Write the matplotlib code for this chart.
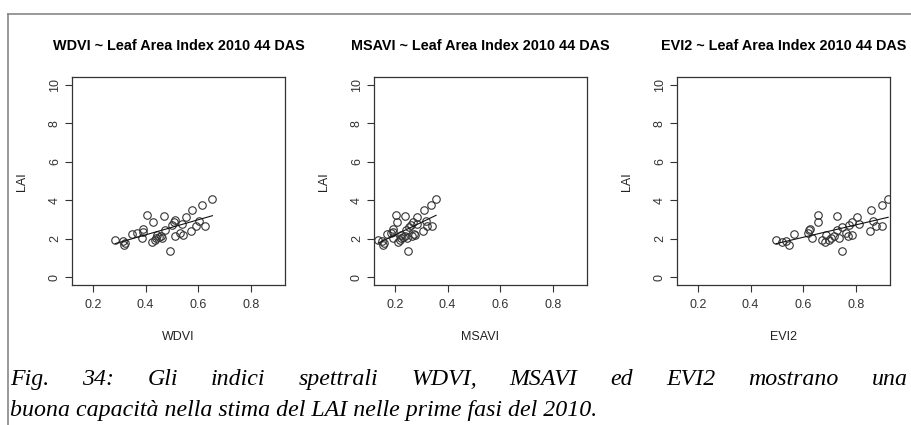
import numpy as np
import matplotlib
matplotlib.use("Agg")
from matplotlib import pyplot as plt
from matplotlib.lines import Line2D

wdvi = [0.285, 0.314, 0.318, 0.322, 0.347, 0.369, 0.386, 0.39, 0.39, 0.407,
        0.427, 0.426, 0.437, 0.441, 0.445, 0.452, 0.458, 0.469, 0.474, 0.464,
        0.494, 0.502, 0.507, 0.512, 0.513, 0.53, 0.539, 0.544, 0.555, 0.574,
        0.578, 0.591, 0.604, 0.614, 0.625, 0.654]
lai_wdvi = [1.94, 1.87, 1.68, 1.79, 2.25, 2.3, 2.05, 2.5, 2.34, 3.24,
            2.88, 1.84, 1.96, 2.05, 2.2, 2.08, 2.17, 3.2, 2.46, 2.05,
            1.39, 2.74, 2.86, 2.17, 2.95, 2.3, 2.77, 2.22, 3.15, 2.39,
            3.5, 2.67, 2.9, 3.74, 2.67, 4.07]

msavi = [0.136, 0.149, 0.156, 0.159, 0.168, 0.185, 0.192, 0.192, 0.194, 0.204,
         0.209, 0.213, 0.219, 0.223, 0.222, 0.23, 0.236, 0.238, 0.241, 0.244,
         0.251, 0.253, 0.261, 0.267, 0.264, 0.284, 0.271, 0.276, 0.283, 0.308,
         0.311, 0.321, 0.318, 0.338, 0.34, 0.356]
lai_msavi = [1.94, 1.87, 1.7, 1.79, 2.25, 2.29, 2.05, 2.5, 2.34, 3.24,
             2.88, 1.84, 1.96, 2.05, 2.2, 2.08, 2.17, 3.2, 2.46, 2.05,
             1.39, 2.6, 2.74, 2.86, 2.17, 3.15, 2.25, 2.22, 2.77, 2.39,
             3.5, 2.67, 2.9, 3.74, 2.67, 4.07]

evi2 = [0.497, 0.519, 0.535, 0.547, 0.566, 0.619, 0.623, 0.626, 0.633, 0.656,
        0.656, 0.671, 0.684, 0.687, 0.697, 0.705, 0.718, 0.729, 0.73, 0.737,
        0.749, 0.747, 0.762, 0.774, 0.772, 0.785, 0.787, 0.806, 0.812, 0.853,
        0.857, 0.865, 0.875, 0.901, 0.901, 0.923]
lai_evi2 = [1.94, 1.84, 1.91, 1.68, 2.25, 2.3, 2.43, 2.5, 2.05, 3.24,
            2.88, 1.94, 1.82, 2.2, 1.96, 2.05, 2.17, 3.2, 2.43, 2.05,
            1.39, 2.6, 2.3, 2.74, 2.17, 2.86, 2.22, 3.15, 2.77, 2.39,
            3.5, 2.9, 2.67, 3.74, 2.67, 4.07]

names = ["WDVI", "MSAVI", "EVI2"]
xs = [wdvi, msavi, evi2]
ys = [lai_wdvi, lai_msavi, lai_evi2]
xticks = [0.2, 0.4, 0.6, 0.8]
yticks = [0, 2, 4, 6, 8, 10]

W, H = 911, 425
fig = plt.figure(figsize=(W / 100, H / 100), dpi=100)
plt.rcParams['font.family'] = ['Liberation Sans', 'DejaVu Sans']

# cornice della pagina
fig.add_artist(Line2D([8 / W, 1], [1 - 14 / H, 1 - 14 / H], color='#888888', lw=1.2))
fig.add_artist(Line2D([8 / W, 8 / W], [0, 1 - 14 / H], color='#888888', lw=1.2))

lefts = [72, 374, 677]
for i in range(3):
    l = lefts[i]
    ax = fig.add_axes([l / W, (H - 285) / H, 213 / W, 208 / H])
    x = np.array(xs[i])
    y = np.array(ys[i])
    ax.plot(x, y, 'o', mfc='none', mec='#333333', ms=5.4, mew=0.8)
    b, a = np.polyfit(x, y, 1)
    xx = np.array([x.min(), x.max()])
    ax.plot(xx, a + b * xx, color='#111111', lw=0.8)
    ax.set_xlim(0.12, 0.93)
    ax.set_ylim(-0.4, 10.4)
    ax.set_xticks(xticks)
    ax.set_xticklabels(['0.2', '0.4', '0.6', '0.8'])
    ax.set_yticks(yticks)
    ax.set_yticklabels([str(v) for v in yticks], rotation=90, va='center')
    ax.tick_params(direction='out', length=5, width=0.8, labelsize=9,
                   colors='#333333', pad=3)
    ax.tick_params(axis='x', pad=5)
    for s in ax.spines.values():
        s.set_linewidth(0.9)
        s.set_color('#333333')
    cx = (l + 213 / 2) / W
    fig.text(cx, 1 - 46 / H, names[i] + " ~ Leaf Area Index 2010 44 DAS",
             ha='center', va='center', fontsize=10.4, fontweight='bold')
    fig.text(cx, 1 - 337 / H, names[i], ha='center', va='center', fontsize=9,
             color='#222222')
    fig.text((l - 50) / W, 1 - 182 / H, "LAI", ha='center', va='center',
             rotation=90, fontsize=9, color='#222222')

# didascalia (prima riga giustificata)
cap_font = dict(family='Liberation Serif', style='italic', fontsize=17.2)
line1 = "Fig. 34: Gli indici spettrali WDVI, MSAVI ed EVI2 mostrano una".split()
line2 = "buona capacità nella stima del LAI nelle prime fasi del 2010."
renderer = fig.canvas.get_renderer()
words = [fig.text(0, 1 - 385 / H, w, ha='left', va='baseline', **cap_font) for w in line1]
widths = [t.get_window_extent(renderer).width for t in words]
x0, x1 = 10, 908
gap = (x1 - x0 - sum(widths)) / (len(words) - 1)
pos = x0
for t, wd in zip(words, widths):
    t.set_x(pos / W)
    pos += wd + gap
fig.text(x0 / W, 1 - 416 / H, line2, ha='left', va='baseline', **cap_font)

fig.savefig('out.png', dpi=100)
